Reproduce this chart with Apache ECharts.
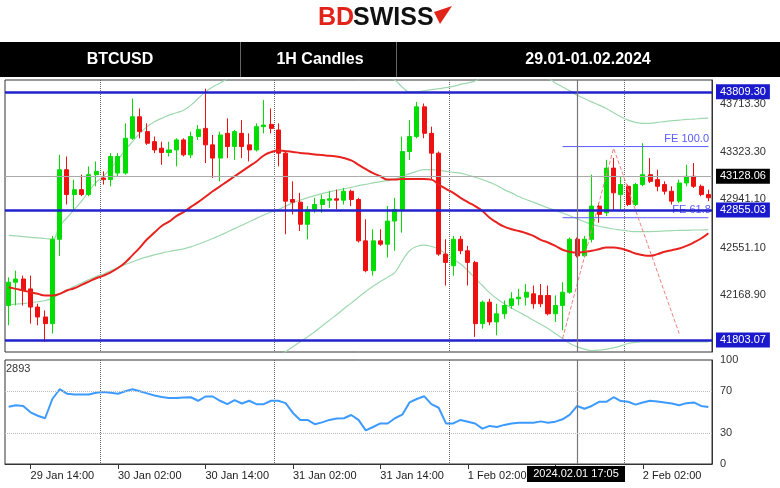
<!DOCTYPE html>
<html lang="en">
<head>
<meta charset="UTF-8">
<title>BTCUSD 1H</title>
<script src="https://cdn.jsdelivr.net/npm/echarts@6/dist/echarts.min.js"></script>
<style>
  body { margin: 0; background: #fff; }
  #chart_main { width: 780px; height: 488px; }
</style>
</head>
<body>
<div id="chart_main"></div>
<script>
// hourly candles, 29 Jan 11:00 .. 2 Feb 11:00
var openArr = [42083,42271,42297,42217,42070,41990,41936,42618,43180,42979,43019,42979,43140,43113,43100,43153,43153,43434,43608,43488,43407,43354,43319,43340,43421,43300,43448,43514,43381,43274,43474,43367,43474,43381,43340,43528,43546,43501,43314,42939,42918,42739,42859,42899,42934,42945,42934,43006,42939,42605,42364,42605,42578,42765,42859,43327,43448,43688,43474,43314,42498,42404,42618,42525,42431,41936,42110,41950,42016,42083,42137,42150,42177,42164,42164,42016,42083,42190,42618,42484,42618,42886,42832,43193,42979,43046,42899,43060,43140,43100,43060,43006,42926,43073,43127,43046,42979];
var closeArr = [42271,42297,42204,42070,41990,41936,42618,43180,42979,43019,42979,43140,43167,43100,43287,43287,43434,43608,43488,43394,43340,43319,43340,43421,43300,43448,43506,43381,43274,43461,43367,43488,43367,43340,43528,43541,43514,43314,42926,42918,42739,42859,42899,42939,42945,42934,43006,42939,42605,42364,42605,42578,42765,42859,43327,43448,43688,43474,43314,42498,42431,42618,42525,42431,41936,42110,41950,42016,42083,42137,42150,42190,42097,42097,42016,42083,42190,42618,42484,42618,42886,42819,43193,42993,43060,42899,43060,43140,43086,43046,43006,42926,43073,43127,43046,42979,42953];
var lowArr = [41923,42083,42083,41936,41923,41789,41856,42484,42899,42859,42966,42966,43046,43060,43046,43127,43140,43421,43434,43381,43314,43220,43287,43207,43287,43274,43421,43234,43113,43086,43274,43260,43274,43247,43327,43474,43474,43207,42658,42819,42685,42618,42832,42832,42872,42859,42899,42886,42592,42351,42324,42565,42471,42525,42672,43260,43434,43434,43100,42484,42244,42324,42498,42244,41829,41896,41923,41843,41976,42057,42083,42083,42057,42070,42003,41950,41883,42177,42471,42471,42592,42752,42805,42846,42859,42886,42886,43046,43073,43006,42979,42899,42912,43046,43033,42966,42926];
var highArr = [42311,42364,42324,42324,42097,42043,42645,43300,43287,43100,43140,43207,43247,43167,43314,43314,43555,43755,43675,43555,43448,43407,43407,43434,43434,43488,43541,43835,43461,43488,43595,43501,43581,43474,43555,43742,43675,43555,43327,43086,42993,42886,42953,42979,43006,43019,43033,43019,42953,42779,42699,42699,42886,42953,43448,43581,43728,43715,43528,43327,42618,42645,42645,42565,42444,42123,42137,42097,42123,42190,42217,42257,42244,42257,42244,42164,42271,42632,42632,42645,43140,42912,43260,43274,43127,43060,43073,43394,43274,43180,43086,43046,43100,43220,43234,43060,43019];
var maRed = [42230,42217,42204,42190,42177,42164,42164,42177,42204,42222,42249,42276,42303,42324,42351,42386,42431,42490,42551,42618,42672,42725,42760,42805,42838,42880,42918,42961,43006,43046,43086,43127,43167,43207,43247,43295,43322,43335,43330,43324,43316,43311,43303,43298,43292,43287,43274,43255,43220,43185,43153,43127,43100,43100,43105,43105,43105,43105,43100,43060,43025,42993,42953,42918,42886,42846,42792,42752,42720,42699,42685,42667,42645,42613,42592,42565,42533,42517,42511,42517,42525,42538,42551,42551,42543,42525,42503,42490,42484,42498,42517,42530,42543,42565,42592,42624,42667];
var bandUpper = [42650,42645,42640,42634,42629,42624,42618,42725,42792,42859,42926,43006,43078,43127,43193,43260,43340,43407,43474,43528,43568,43595,43621,43640,43661,43702,43755,43809,43849,43881,43916,43960,44000,44030,44060,44080,44100,44110,44110,44100,44090,44080,44060,44040,44020,44000,43990,43980,43970,43960,43950,43940,43929,43902,43849,43809,43809,43817,43827,43835,43843,43854,43870,43881,43897,43930,43960,43980,43990,43990,43980,43960,43940,43920,43916,43881,43849,43817,43782,43755,43728,43702,43675,43640,43608,43581,43563,43555,43555,43563,43568,43576,43581,43587,43589,43595,43597];
var bandMid = [42089,42094,42099,42105,42113,42123,42142,42177,42209,42238,42265,42292,42316,42337,42364,42391,42415,42436,42458,42476,42492,42506,42519,42530,42541,42557,42578,42600,42624,42650,42677,42704,42731,42760,42787,42814,42838,42859,42886,42912,42934,42953,42971,42987,43001,43014,43025,43038,43052,43062,43073,43084,43092,43105,43127,43148,43167,43180,43180,43175,43167,43159,43153,43137,43119,43100,43078,43052,43019,42993,42963,42939,42918,42894,42872,42851,42830,42808,42784,42760,42739,42723,42712,42701,42693,42685,42680,42680,42680,42682,42685,42688,42690,42690,42693,42693,42696];
var bandLower = [null,null,null,null,null,null,null,null,null,null,null,null,null,null,null,null,null,null,null,null,null,null,null,null,null,null,null,null,null,null,null,null,null,null,null,null,null,41669,41709,41749,41789,41829,41870,41917,41963,42008,42057,42102,42150,42196,42238,42276,42311,42351,42444,42525,42560,42570,42560,42538,42498,42458,42418,42364,42303,42244,42185,42137,42097,42062,42030,41998,41963,41931,41896,41856,41816,41776,41749,41730,41719,41722,41730,41741,41757,41776,41784,41789,41789,41789,41789,41789,41789,41789,41789,41789,41789];
var rsiArr = [55.1,56.5,55.8,49.7,46.4,44.0,62.5,71.9,67.6,66.9,66.9,66.9,68.6,69.2,68.6,67.6,69.9,71.9,69.9,67.9,65.9,64.5,63.5,63.5,63.9,64.2,60.8,64.9,64.9,60.8,57.5,61.5,58.2,60.8,57.5,57.5,60.8,60.8,58.5,49.1,42.4,42.4,38.3,40.0,42.4,43.7,44.0,47.1,42.4,32.3,35.6,39.0,39.0,44.0,47.4,59.2,62.5,65.2,57.5,54.1,39.0,39.0,42.4,40.7,39.0,34.0,36.6,35.6,37.6,39.0,39.7,39.7,39.7,41.0,39.7,40.7,43.0,47.4,55.8,53.1,55.8,59.8,59.8,64.2,60.5,59.8,57.1,59.2,60.8,60.2,59.2,58.2,56.5,58.5,59.2,55.8,54.8];
var rsiLevels = [30, 70];
var levelLines = [43809.30, 42855.03, 41803.07];
var priceTicks = [43713.30, 43323.30, 42941.10, 42551.10, 42168.90];
var lastPrice = 43128.06;
var fe100 = 43367, fe618 = 42792;
var fibPath = [[76, 41816], [83, 43354], [92, 41856]];
var daySplits = [13, 37, 61, 85];
var markerIdx = 78;

// category labels
var months = ['Jan','Feb'];
var cats = [];
for (var i = 0; i < openArr.length; i++) {
  var h = 11 + i; // hours after 29 Jan 00:00
  var day = 29 + Math.floor(h / 24), hr = h % 24;
  var m = 0;
  if (day > 31) { day -= 31; m = 1; }
  cats.push(day + ' ' + months[m] + ' ' + (hr < 10 ? '0' : '') + hr + ':00');
}
var candleData = openArr.map(function(o, i) { return [o, closeArr[i], lowArr[i], highArr[i]]; });
var labelEvery = function(i) { return i >= 3 && (i - 3) % 12 === 0; };

var myChart = echarts.init(document.getElementById('chart_main'));
var ff = 'Liberation Sans, Arial, sans-serif';
var option = {
  animation: false,
  textStyle: { fontFamily: ff },
  graphic: [
    { type: 'text', left: 318, top: 6, style: { text: 'BD', fill: '#e2231a', font: 'bold 25px ' + ff } },
    { type: 'text', left: 353, top: 6, style: { text: 'SWISS', fill: '#111', font: 'bold 25px ' + ff } },
    { type: 'polygon', shape: { points: [[434,12],[452,6],[440,24]] }, style: { fill: '#e2231a' } },
    { type: 'rect', shape: { x: 0, y: 42, width: 780, height: 35 }, style: { fill: '#000' } },
    { type: 'rect', shape: { x: 240, y: 42, width: 1, height: 35 }, style: { fill: '#666' } },
    { type: 'rect', shape: { x: 396, y: 42, width: 1, height: 35 }, style: { fill: '#666' } },
    { type: 'text', x: 120, y: 60, style: { text: 'BTCUSD', fill: '#fff', font: 'bold 16px ' + ff, align: 'center', verticalAlign: 'middle' } },
    { type: 'text', x: 320, y: 60, style: { text: '1H Candles', fill: '#fff', font: 'bold 16px ' + ff, align: 'center', verticalAlign: 'middle' } },
    { type: 'text', x: 588, y: 60, style: { text: '29.01-01.02.2024', fill: '#fff', font: 'bold 16px ' + ff, align: 'center', verticalAlign: 'middle' } },
    { type: 'text', x: 6, y: 363, style: { text: '2893', fill: '#333', font: '11px ' + ff } },
    { type: 'rect', shape: { x: 527, y: 466, width: 98, height: 16 }, style: { fill: '#000' }, z: 50 },
    { type: 'text', x: 576, y: 474, z: 51, style: { text: '2024.02.01 17:05', fill: '#fff', font: '11px ' + ff, align: 'center', verticalAlign: 'middle' } }
  ],
  grid: [
    { left: 5, right: 68, top: 80, height: 272, show: true, borderColor: '#333', borderWidth: 1 },
    { left: 5, right: 68, top: 360, height: 104, show: true, borderColor: '#333', borderWidth: 1 }
  ],
  xAxis: [
    { type: 'category', data: cats, gridIndex: 0, boundaryGap: true,
      axisLine: { show: false }, axisTick: { show: false }, axisLabel: { show: false },
      splitLine: { show: true, interval: function(i) { return daySplits.indexOf(i) >= 0; }, lineStyle: { color: '#666', type: 'dotted' } } },
    { type: 'category', data: cats, gridIndex: 1, boundaryGap: true,
      axisLine: { lineStyle: { color: '#333' } },
      axisTick: { show: true, alignWithLabel: true, interval: labelEvery, lineStyle: { color: '#333' } },
      axisLabel: { interval: labelEvery, align: 'left', color: '#222', fontSize: 11, margin: 6 },
      splitLine: { show: true, interval: function(i) { return daySplits.indexOf(i) >= 0; }, lineStyle: { color: '#666', type: 'dotted' } } }
  ],
  yAxis: [
    { type: 'value', gridIndex: 0, position: 'right', min: 41707, max: 43905, scale: true,
      axisLine: { show: true, lineStyle: { color: '#333' } }, axisLabel: { show: false },
      axisTick: { show: false }, splitLine: { show: false } },
    { type: 'value', gridIndex: 1, position: 'right', min: 0, max: 100, interval: 10,
      axisLine: { show: true, lineStyle: { color: '#333' } }, axisTick: { show: false },
      axisLabel: { color: '#333', fontSize: 11, formatter: function(v) { return [0,30,70,100].indexOf(v) >= 0 ? v : ''; } },
      splitLine: { show: false } }
  ],
  series: [
    { type: 'candlestick', xAxisIndex: 0, yAxisIndex: 0, data: candleData, barWidth: '62%',
      itemStyle: { color: '#00dd00', color0: '#ee1111', borderColor: '#00dd00', borderColor0: '#ee1111' },
      markLine: { symbol: 'none', silent: true, animation: false,
        data: levelLines.map(function(v) { return { yAxis: v, lineStyle: { color: '#2222cc', width: 2.5, type: 'solid' },
          label: { position: 'end', formatter: v.toFixed(2), color: '#fff', backgroundColor: '#1a1acc', padding: [2, 4], fontSize: 11, distance: 4 } }; })
          .concat([{ yAxis: lastPrice, lineStyle: { color: '#aaa', width: 1, type: 'solid' },
            label: { position: 'end', formatter: lastPrice.toFixed(2), color: '#fff', backgroundColor: '#000', padding: [2, 4], fontSize: 11, distance: 4 } }])
      } },
    { type: 'line', xAxisIndex: 0, yAxisIndex: 0, data: [], z: 1, markLine: { symbol: 'none', silent: true,
      data: priceTicks.map(function(v) { return { yAxis: v, lineStyle: { color: 'rgba(0,0,0,0)', width: 1 },
        label: { show: true, position: 'end', formatter: v.toFixed(2), color: '#333', fontSize: 11, distance: 8 } }; }) } },
    { type: 'line', xAxisIndex: 0, yAxisIndex: 0, data: bandUpper, showSymbol: false, smooth: true, lineStyle: { color: '#9fd8b0', width: 1.2 }, z: 1 },
    { type: 'line', xAxisIndex: 0, yAxisIndex: 0, data: bandMid, showSymbol: false, smooth: true, lineStyle: { color: '#9fd8b0', width: 1.2 }, z: 1 },
    { type: 'line', xAxisIndex: 0, yAxisIndex: 0, data: bandLower, showSymbol: false, smooth: true, lineStyle: { color: '#9fd8b0', width: 1.2 }, z: 1 },
    { type: 'line', xAxisIndex: 0, yAxisIndex: 0, data: maRed, showSymbol: false, smooth: true, lineStyle: { color: '#e8231f', width: 2 }, z: 3 },
    { type: 'line', xAxisIndex: 0, yAxisIndex: 0, data: fibPath, showSymbol: false, lineStyle: { color: '#f08080', width: 1, type: 'dashed' }, z: 4 },
    { type: 'line', xAxisIndex: 0, yAxisIndex: 0, data: [[76, fe100], [96, fe100]], showSymbol: false, lineStyle: { color: '#5a5aff', width: 1 },
      endLabel: { show: true, formatter: 'FE 100.0', color: '#5a5aff', fontSize: 11, offset: [-52, -8] } },
    { type: 'line', xAxisIndex: 0, yAxisIndex: 0, data: [[76, fe618], [96, fe618]], showSymbol: false, lineStyle: { color: '#5a5aff', width: 1 },
      endLabel: { show: true, formatter: 'FE 61.8', color: '#5a5aff', fontSize: 11, offset: [-44, -8] } },
    { type: 'line', xAxisIndex: 0, yAxisIndex: 0, data: [], markLine: { symbol: 'none', silent: true,
      data: [{ xAxis: markerIdx }], lineStyle: { color: '#777', width: 1.2, type: 'solid' }, label: { show: false } } },
    { type: 'line', xAxisIndex: 1, yAxisIndex: 1, data: rsiArr, showSymbol: false, lineStyle: { color: '#3d9bff', width: 2 },
      markLine: { symbol: 'none', silent: true,
        data: [{ xAxis: markerIdx, lineStyle: { color: '#777', width: 1.2, type: 'solid' } }]
          .concat(rsiLevels.map(function(v) { return { yAxis: v, lineStyle: { color: '#bbb', width: 1, type: 'dotted' } }; })),
        label: { show: false } } }
  ]
};
myChart.setOption(option);
</script>
</body>
</html>
